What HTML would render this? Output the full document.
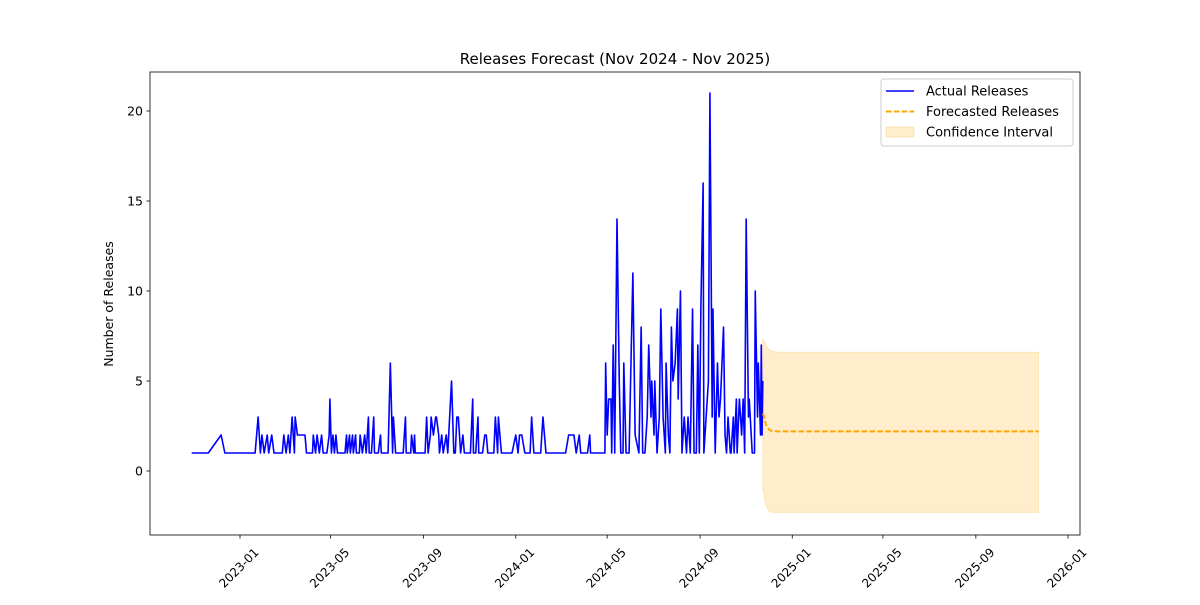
<!DOCTYPE html>
<html><head><meta charset="utf-8"><style>
body{margin:0;background:#fff;font-family:"Liberation Sans","DejaVu Sans",sans-serif}
svg text{font-family:"DejaVu Sans","Liberation Sans",sans-serif}
</style></head><body>
<svg id="chart" width="1200" height="600" xmlns="http://www.w3.org/2000/svg"></svg>
<script>
const actualDays=[-64,-42,-25,-20,20,24,27,29,32,36,38,42,45,56,58,61,64,66,69,72,73,76,77,86,88,96,97,100,102,105,108,110,115,118,119,121,123,125,127,129,139,141,142,145,146,149,150,153,154,158,159,162,165,167,170,171,174,177,178,183,186,187,196,199,202,203,206,216,219,220,226,227,230,231,232,245,247,249,252,253,256,259,260,263,264,267,269,273,275,280,283,285,287,289,292,295,297,305,308,309,312,315,316,321,324,326,328,336,338,341,342,346,360,365,368,370,373,377,384,386,389,398,401,405,431,435,442,445,449,451,460,463,464,483,484,486,488,491,492,494,496,499,502,504,507,508,511,515,516,520,523,528,531,533,536,539,541,544,545,548,549,552,555,557,560,563,564,567,569,571,573,576,579,580,583,585,588,591,593,596,599,601,604,606,608,610,613,614,617,620,622,625,626,629,632,634,636,640,642,644,646,649,650,653,654,657,658,661,664,666,668,670,673,674,678,681,682,685,686,689,690,691,692];
const actualValues=[1,1,2,1,1,3,1,2,1,2,1,2,1,1,2,1,2,1,3,1,3,2,2,2,1,1,2,1,2,1,2,1,1,2,4,1,2,1,2,1,1,2,1,2,1,2,1,2,1,1,2,1,2,1,3,1,1,3,1,1,2,1,1,6,1,3,1,1,3,1,1,2,1,2,1,1,3,1,2,3,2,3,3,2,1,2,1,2,1,5,1,1,3,3,1,2,1,1,4,1,1,3,1,1,2,2,1,1,3,1,3,1,1,2,1,2,2,1,1,3,1,1,3,1,1,2,2,1,2,1,1,2,1,1,6,2,4,4,1,7,1,14,5,1,1,6,1,1,3,11,2,1,8,1,1,3,7,3,5,2,5,1,3,9,3,1,6,2,1,8,5,6,9,4,10,1,3,1,3,1,9,1,1,7,1,9,16,1,3,5,21,3,9,1,6,3,4,8,2,1,3,1,1,3,1,4,1,4,2,4,1,14,3,4,1,1,10,3,6,2,7,2,5];
const fcDays=[692,694,696,698,702,710,1057];
const fcValues=[3.2,3.0,2.6,2.4,2.25,2.2,2.2];
const ciDays=[692,694,696,700,704,712,1057];
const ciUpper=[7.3,7.2,7.0,6.75,6.65,6.6,6.6];
const ciLower=[-1.0,-1.4,-1.9,-2.2,-2.3,-2.3,-2.3];
const xTickDays=[0,120,243,365,486,609,731,851,974,1096];
const xTickLabels=["2023-01","2023-05","2023-09","2024-01","2024-05","2024-09","2025-01","2025-05","2025-09","2026-01"];
const yTicks=[0,5,10,15,20];

const NS="http://www.w3.org/2000/svg";
const svg=document.getElementById('chart');
const L=150,R=1080,T=72,B=535;
const X=d=>240+d*0.7555;
const Y=v=>471-v*18;
function el(tag,attrs,parent){const e=document.createElementNS(NS,tag);for(const k in attrs)e.setAttribute(k,attrs[k]);(parent||svg).appendChild(e);return e;}

let pts=ciDays.map((d,i)=>X(d)+','+Y(ciUpper[i]));
for(let i=ciDays.length-1;i>=0;i--)pts.push(X(ciDays[i])+','+Y(ciLower[i]));
const ci=el('polygon',{points:pts.join(' '),fill:'#ffa500','fill-opacity':0.2,stroke:'#ffa500','stroke-opacity':0.2});



const act=el('polyline',{points:actualDays.map((d,i)=>X(d)+','+Y(actualValues[i])).join(' '),fill:'none',stroke:'#0000ff','stroke-width':1.6,'stroke-linejoin':'round'});



const fc=el('polyline',{points:fcDays.map((d,i)=>X(d)+','+Y(fcValues[i])).join(' '),fill:'none',stroke:'#ffa500','stroke-width':2,'stroke-dasharray':'5.5,2.4'});



const frame=el('rect',{x:L,y:T,width:R-L,height:B-T,fill:'none',stroke:'#000','stroke-width':0.8});



xTickDays.forEach((d,i)=>{
  const x=X(d);
  el('line',{x1:x,x2:x,y1:B,y2:B+3.5,stroke:'#000','stroke-width':0.8});
  const cx=x-1, cy=568;
  const t=el('text',{x:cx,y:cy+4,'font-size':12,'text-anchor':'middle',transform:`rotate(-45 ${cx} ${cy})`});
  t.textContent=xTickLabels[i];
  
  
});
yTicks.forEach(v=>{
  const y=Y(v);
  el('line',{x1:L-3.5,x2:L,y1:y,y2:y,stroke:'#000','stroke-width':0.8});
  const t=el('text',{x:L-7,y:y+4.5,'font-size':12.5,'text-anchor':'end'});
  t.textContent=v;
  
  
});
const yt=el('text',{x:113,y:304,'font-size':12.5,'text-anchor':'middle',transform:'rotate(-90 113 304)'});
yt.textContent='Number of Releases';


const tt=el('text',{x:615,y:64,'font-size':15,'text-anchor':'middle'});
tt.textContent='Releases Forecast (Nov 2024 - Nov 2025)';



const lg=el('g',{});


el('rect',{x:881,y:79,width:192,height:67,rx:3,fill:'#fff','fill-opacity':0.8,stroke:'#ccc'},lg);
const entries=[['Actual Releases','line'],['Forecasted Releases','dash'],['Confidence Interval','patch']];
entries.forEach((e,i)=>{
  const y=91+i*20.5;
  const g=el('g',{},lg);
  
  
  if(e[1]==='line')el('line',{x1:886,x2:914,y1:y,y2:y,stroke:'#0000ff','stroke-width':1.6},g);
  else if(e[1]==='dash')el('line',{x1:886,x2:914,y1:y,y2:y,stroke:'#ffa500','stroke-width':2,'stroke-dasharray':'5.5,2.4'},g);
  else el('rect',{x:886,y:y-5,width:28,height:10,fill:'#ffa500','fill-opacity':0.2,stroke:'#ffa500','stroke-opacity':0.2},g);
  const t=el('text',{x:926,y:y+4.5,'font-size':13},g);
  t.textContent=e[0];
});
</script>
</body></html>
